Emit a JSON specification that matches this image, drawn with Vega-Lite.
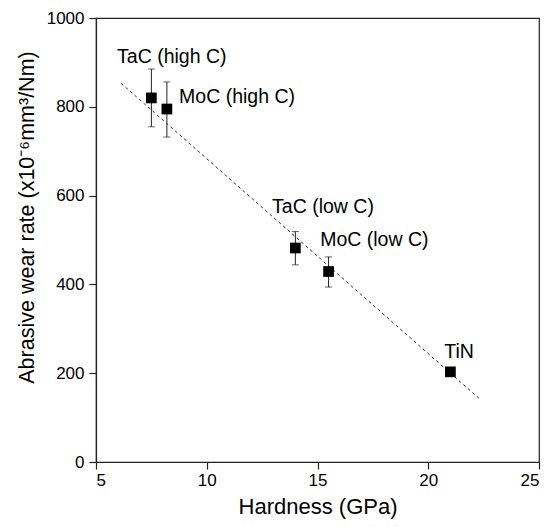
{
  "$schema": "https://vega.github.io/schema/vega-lite/v6.json",
  "autosize": {"type": "none"},
  "padding": {"left": 96, "top": 18, "right": 11, "bottom": 65},
  "width": 443,
  "height": 444,
  "config": {
    "font": "Liberation Sans",
    "view": {"stroke": "#222", "strokeWidth": 1.2},
    "axis": {
      "grid": false,
      "domainColor": "#222",
      "domainWidth": 1.2,
      "tickColor": "#222",
      "tickWidth": 1.2,
      "tickSize": 7,
      "labelColor": "black",
      "titleColor": "black",
      "labelFont": "Liberation Sans",
      "titleFont": "Liberation Sans",
      "labelFontSize": 17,
      "titleFontSize": 22,
      "titleFontWeight": "normal"
    }
  },
  "datasets": {
    "pts": [
      {"name": "TaC (high C)", "h": 7.5, "w": 820, "lo": 755, "hi": 885},
      {"name": "MoC (high C)", "h": 8.2, "w": 795, "lo": 732, "hi": 856},
      {"name": "TaC (low C)", "h": 14.0, "w": 482, "lo": 444, "hi": 519},
      {"name": "MoC (low C)", "h": 15.5, "w": 429, "lo": 394, "hi": 462},
      {"name": "TiN", "h": 21.0, "w": 203, "lo": 193, "hi": 212}
    ],
    "labels": [
      {"text": "TaC (high C)", "h": 5.95, "w": 912},
      {"text": "MoC (high C)", "h": 8.75, "w": 822},
      {"text": "TaC (low C)", "h": 12.95, "w": 574},
      {"text": "MoC (low C)", "h": 15.12, "w": 500},
      {"text": "TiN", "h": 20.72, "w": 248}
    ],
    "fit": [
      {"h": 6.13, "w": 853},
      {"h": 22.37, "w": 140}
    ]
  },
  "layer": [
    {
      "data": {"name": "fit"},
      "mark": {"type": "line", "color": "#333", "strokeWidth": 1, "strokeDash": [3, 3]},
      "encoding": {
        "x": {"field": "h", "type": "quantitative", "scale": {"domain": [5, 25], "nice": false, "zero": false},
              "axis": {"values": [5, 10, 15, 20, 25], "format": "d", "title": "Hardness (GPa)", "labelPadding": 3, "titlePadding": 8}},
        "y": {"field": "w", "type": "quantitative", "scale": {"domain": [0, 1000], "nice": false},
              "axis": {"values": [0, 200, 400, 600, 800, 1000], "format": "d", "title": "Abrasive wear rate (x10⁻⁶mm³/Nm)", "titleFontSize": 21.5, "labelPadding": 5, "titleX": -58, "titleY": 199}}
      }
    },
    {
      "data": {"name": "pts"},
      "mark": {"type": "rule", "color": "#222", "strokeWidth": 1},
      "encoding": {
        "x": {"field": "h", "type": "quantitative"},
        "y": {"field": "lo", "type": "quantitative"},
        "y2": {"field": "hi"}
      }
    },
    {
      "data": {"name": "pts"},
      "mark": {"type": "tick", "orient": "horizontal", "color": "#222", "size": 7, "thickness": 1},
      "encoding": {
        "x": {"field": "h", "type": "quantitative"},
        "y": {"field": "lo", "type": "quantitative"}
      }
    },
    {
      "data": {"name": "pts"},
      "mark": {"type": "tick", "orient": "horizontal", "color": "#222", "size": 7, "thickness": 1},
      "encoding": {
        "x": {"field": "h", "type": "quantitative"},
        "y": {"field": "hi", "type": "quantitative"}
      }
    },
    {
      "data": {"name": "pts"},
      "mark": {"type": "point", "shape": "square", "filled": true, "color": "black", "size": 115, "opacity": 1},
      "encoding": {
        "x": {"field": "h", "type": "quantitative"},
        "y": {"field": "w", "type": "quantitative"}
      }
    },
    {
      "data": {"name": "labels"},
      "mark": {"type": "text", "align": "left", "baseline": "middle", "fontSize": 19.5, "font": "Liberation Sans", "color": "black"},
      "encoding": {
        "x": {"field": "h", "type": "quantitative"},
        "y": {"field": "w", "type": "quantitative"},
        "text": {"field": "text"}
      }
    }
  ]
}
